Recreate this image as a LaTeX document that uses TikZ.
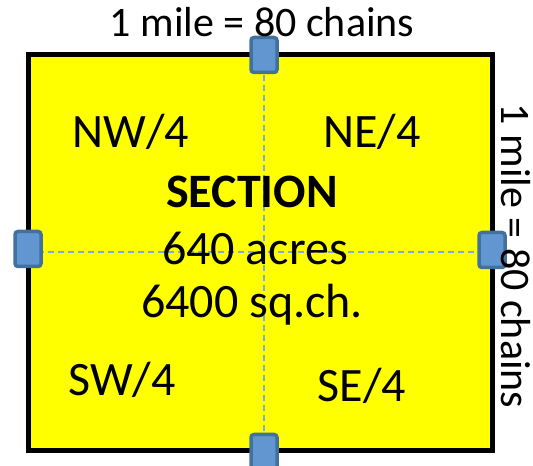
\documentclass[tikz,border=0pt]{standalone}
\usepackage{fontspec}
\setmainfont{Carlito}
\usepackage{xcolor}
\definecolor{fieldyellow}{RGB}{255,255,0}
\definecolor{pinfill}{RGB}{98,150,208}
\definecolor{pinline}{RGB}{65,113,156}
\definecolor{cutline}{RGB}{130,170,210}

\begin{document}
\begin{tikzpicture}[x=1pt, y=1pt,
  pin/.style={draw=pinline, fill=pinfill, line width=3.5pt, rounded corners=3pt,
    minimum width=26pt, minimum height=35pt, inner sep=0pt},
  quarter/.style={font=\fontsize{48}{50}\selectfont},
  scalelabel/.style={font=\fontsize{42}{46}\selectfont}]
\useasboundingbox (0, 0) rectangle (533, 466);
\draw [fill=fieldyellow, line width=5pt] (28, 15) rectangle (492, 411);
% quarter lines
\draw [cutline, line width=1.8pt, dash pattern=on 6pt off 4pt] (264, 411) -- (264, 15);
\draw [cutline, line width=1.8pt, dash pattern=on 6pt off 4pt] (28, 214) -- (492, 214);
\node [pin] (north) at (264, 411) {};
\node [pin] (south) at (264, 14) {};
\node [pin] (west) at (28, 217) {};
\node [pin] (east) at (492, 216) {};
\node [scalelabel] (top) at (262, 444) {1 mile = 80 chains};
\node [scalelabel, rotate=-90, inner sep=1pt] (side) at (516, 210) {1 mile = 80 chains};
\node [quarter] (nw) at (131, 334) {NW/4};
\node [quarter] (ne) at (372, 334) {NE/4};
\node [quarter] (sec) at (252, 274) {\textbf{SECTION}};
\node [quarter] (acres) at (255, 218) {640 acres};
\node [quarter] (chains) at (252, 161) {6400 sq.ch.};
\node [quarter] (sw) at (122, 86) {SW/4};
\node [quarter] (se) at (362, 80) {SE/4};
\end{tikzpicture}
\end{document}
